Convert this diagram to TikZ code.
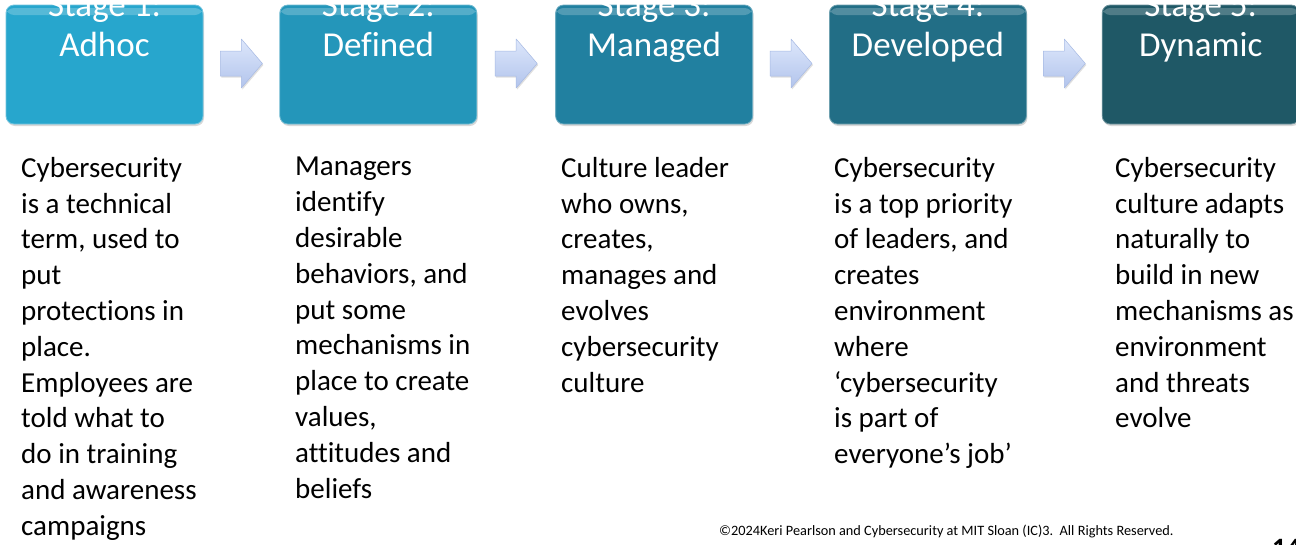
\documentclass[tikz,border=0pt]{standalone}
\usepackage{fontspec}
\setmainfont{Carlito}[Ligatures=NoCommon]
\usetikzlibrary{positioning,calc,shadows}

\definecolor{stageA}{HTML}{27A6CD}
\definecolor{stageB}{HTML}{2496BA}
\definecolor{stageC}{HTML}{2180A0}
\definecolor{stageD}{HTML}{226E86}
\definecolor{stageE}{HTML}{1F5866}
\definecolor{arrowtop}{HTML}{DDE7FB}
\definecolor{arrowbot}{HTML}{B2C4EC}
\definecolor{arrowline}{HTML}{A7BAE4}

\tikzset{
  stagebox/.style={fill=#1, draw=#1!65!white, line width=0.8pt,
    rounded corners=8pt, minimum width=197pt, minimum height=119pt,
    inner sep=0pt, text=white, align=center,
    font=\fontsize{35}{40}\selectfont,
    text height=30pt, text depth=47pt,
    drop shadow={opacity=0.3, shadow xshift=1pt, shadow yshift=-2pt},
    path picture={
      \fill[white, opacity=0.22] ([yshift=-3pt]path picture bounding box.north west)
        rectangle ([yshift=-10pt]path picture bounding box.north east);
    }},
  flowarrow/.style={top color=arrowtop, bottom color=arrowbot, draw=arrowline,
    line width=0.5pt, line join=round,
    drop shadow={opacity=0.25, shadow xshift=1pt, shadow yshift=-1.5pt}},
  descr/.style={anchor=north west, inner sep=0pt, align=left, text=black,
    font=\fontsize{29}{35.8}\selectfont, execute at begin node=\strut},
}

\begin{document}
\begin{tikzpicture}[x=1pt, y=-1pt, node distance=76pt]
  \useasboundingbox[fill=white] (0,0) rectangle (1296,544);

  % Stage boxes
  \node[stagebox=stageA] (s1) at (104.5,64.5) {Stage 1:\\Adhoc};
  \node[stagebox=stageB, right=76pt of s1] (s2) {Stage 2:\\Defined};
  \node[stagebox=stageC, right=78pt of s2] (s3) {Stage 3:\\Managed};
  \node[stagebox=stageD, right=76pt of s3] (s4) {Stage 4:\\Developed};
  \node[stagebox=stageE, right=75pt of s4] (s5) {Stage 5:\\Dynamic};

  % Block arrows between stages
  \foreach \a/\b in {s1/s2, s2/s3, s3/s4, s4/s5} {
    \coordinate (arr\a) at ($(\a.east)!0.5!(\b.west) + (0,-1)$);
    \draw[flowarrow] ($(arr\a)+(-21,-12.5)$) -- ++(21,0) -- ++(0,-12)
      -- ++(21,24.5) -- ++(-21,24.5) -- ++(0,-12) -- ++(-21,0) -- cycle;
  }

  % Descriptions (first baseline at y=177)
  \node[descr] (d1) at (21,157) {Cybersecurity\\is a technical\\term, used to\\put\\protections in\\place.\\Employees are\\told what to\\do in training\\and awareness\\campaigns};
  \node[descr] (d2) at (295,157) {Managers\\identify\\desirable\\behaviors, and\\put some\\mechanisms in\\place to create\\values,\\attitudes and\\beliefs};
  \node[descr] (d3) at (561,157) {Culture leader\\who owns,\\creates,\\manages and\\evolves\\cybersecurity\\culture};
  \node[descr] (d4) at (834,157) {Cybersecurity\\is a top priority\\of leaders, and\\creates\\environment\\where\\‘cybersecurity\\is part of\\everyone’s job’};
  \node[descr] (d5) at (1115,157) {Cybersecurity\\culture adapts\\naturally to\\build in new\\mechanisms as\\environment\\and threats\\evolve};

  % Footer
  \node[anchor=base west, inner sep=0pt, font=\fontsize{14.3}{16}\selectfont] (copy) at (719,535)
    {©2024Keri Pearlson and Cybersecurity at MIT Sloan (IC)3.\ \ All Rights Reserved.};
  \node[anchor=base west, inner sep=0pt, font=\bfseries\fontsize{28}{30}\selectfont] (page) at (1272,557) {14};
\end{tikzpicture}
\end{document}
